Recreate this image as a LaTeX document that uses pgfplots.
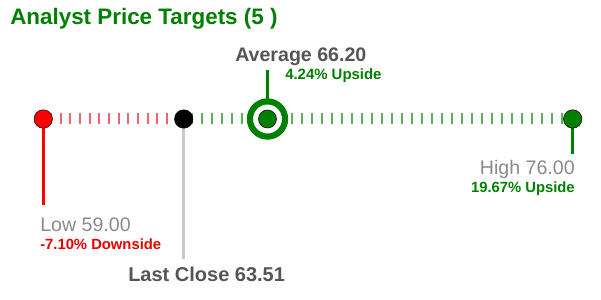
\documentclass[border=0pt]{standalone}
\usepackage{pgfplots}
\pgfplotsset{compat=1.18}
\usepackage{fontspec}
\setmainfont{Liberation Sans}
\definecolor{tgreen}{RGB}{0,128,0}
\definecolor{dashred}{RGB}{238,100,112}
\definecolor{dashgreen}{RGB}{95,172,95}
\definecolor{dgray}{RGB}{85,85,85}
\definecolor{lgray}{RGB}{138,138,138}
\definecolor{linegray}{RGB}{200,200,200}
\definecolor{tred}{RGB}{230,0,0}
\begin{document}
\begin{tikzpicture}
\useasboundingbox (0,0) rectangle (450.75pt,225pt);
\begin{axis}[at={(0,0)}, anchor=south west, scale only axis,
  width=450.75pt, height=225pt,
  xmin=57.6095, xmax=76.9094, ymin=0, ymax=300,
  hide axis, clip=false]
% dashed segments
\addplot[draw=dashred, line width=8.25pt, dash pattern=on 1.5pt off 5.7375pt, dash phase=2.175pt]
  coordinates {(59,181) (63.51,181)};
\addplot[draw=dashgreen, line width=8.25pt, dash pattern=on 1.5pt off 6pt, dash phase=2.25pt]
  coordinates {(63.51,181) (76,181)};
% stems
\addplot[draw=red, line width=1.8pt] coordinates {(59,181) (59,95)};
\addplot[draw=linegray, line width=2pt] coordinates {(63.51,181) (63.51,41)};
\addplot[draw=tgreen, line width=2.2pt] coordinates {(76,181) (76,146)};
\addplot[draw=tgreen, line width=1.75pt] coordinates {(66.2,181) (66.2,230)};
% dots
\addplot[only marks, mark=*, mark size=6.9pt, mark options={draw=none, fill=red}] coordinates {(59,181)};
\addplot[only marks, mark=*, mark size=6.9pt, mark options={draw=none, fill=black}] coordinates {(63.51,181)};
\addplot[only marks, mark=*, mark size=6.9pt, mark options={draw=none, fill=tgreen}] coordinates {(76,181)};
\addplot[only marks, mark=*, mark size=13.2pt, mark options={draw=tgreen, fill=white, line width=4.6pt}] coordinates {(66.2,181)};
\addplot[only marks, mark=*, mark size=6.75pt, mark options={draw=none, fill=tgreen}] coordinates {(66.2,181)};
\end{axis}
\begin{scope}[x=0.75pt, y=-0.75pt, shift={(0,225pt)}]
\node[anchor=base west, inner sep=0, text=tgreen, font=\bfseries\fontsize{16.8}{18}\selectfont] at (10,25) {Analyst Price Targets (5 )};
\node[anchor=base west, inner sep=0, text=dgray, font=\bfseries\fontsize{14.7}{16}\selectfont] at (235,61.7) {Average 66.20};
\node[anchor=base west, inner sep=0, text=tgreen, font=\bfseries\fontsize{11.2}{13}\selectfont] at (285,80) {4.24\% Upside};
\node[anchor=base west, inner sep=0, text=lgray, font=\fontsize{14.7}{16}\selectfont] at (40,231.7) {Low 59.00};
\node[anchor=base west, inner sep=0, text=tred, font=\bfseries\fontsize{11.1}{13}\selectfont] at (40,250) {-7.10\% Downside};
\node[anchor=base west, inner sep=0, text=dgray, font=\bfseries\fontsize{15}{17}\selectfont] at (128,281.7) {Last Close 63.51};
\node[anchor=base east, inner sep=0, text=lgray, font=\fontsize{14.7}{16}\selectfont] at (575,175) {High 76.00};
\node[anchor=base east, inner sep=0, text=tgreen, font=\bfseries\fontsize{11.1}{13}\selectfont] at (575,193) {19.67\% Upside};
\end{scope}
\end{tikzpicture}
\end{document}
